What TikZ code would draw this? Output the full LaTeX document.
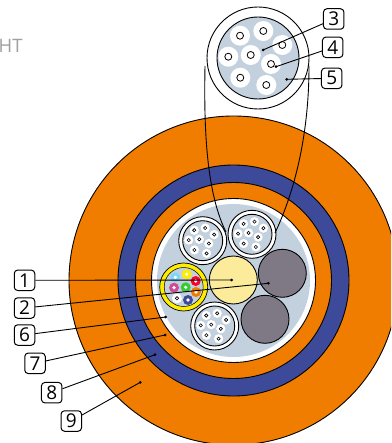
\documentclass[tikz,border=0pt]{standalone}
\usepackage{fontspec}
\setmainfont{Open Sans}
\usepackage{tikz}
\usetikzlibrary{calc,positioning}

\definecolor{jacketorange}{HTML}{F07D00}
\definecolor{armourblue}{HTML}{3D4A9A}
\definecolor{gelblue}{HTML}{C3D1DF}
\definecolor{fillergray}{HTML}{7F7986}
\definecolor{corecream}{HTML}{FBEB9B}
\definecolor{tubeyellow}{HTML}{FFED00}

\begin{document}
\begin{tikzpicture}[
		x=1pt, y=-1pt,
		>=stealth,
		% Styles
		layer/.style={draw=black, line width=0.9pt},
		numbox/.style={draw=black, fill=white, line width=1pt, rounded corners=3.5pt, minimum size=20.5pt, inner sep=0pt, font=\fontsize{19}{19}\selectfont},
		leader/.style={draw=black, line width=0.9pt},
		tip/.style={fill=black, draw=none},
		% A bundle of eight fibres in a sheath
		pics/bundle/.style n args={3}{code={
			\foreach \fx/\fy in {-18/-22.3, 5.3/-27, 24.3/-13, -29.7/-1.3, -7.3/-3, 13/6, -17.7/19.7, 8.3/27}{
				\fill[white] (#1*\fx/100, #1*\fy/100) circle (#2);
				\draw[fill=white, line width=#3] (#1*\fx/100, #1*\fy/100) circle (#2*0.35);
			}
		}}
	]

	% --- Parameters ---
	\def\cx{233.5}     % Centre of the cable
	\def\cy{280.5}
	\def\subR{24}      % Radius of a sub-unit

	\useasboundingbox (0,0) rectangle (391,443);

	\node[anchor=base west, inner sep=0pt, text=gray!75, font=\fontsize{18.5}{18.5}\selectfont] (title) at (-1.5,53) {HT};

	% --- 1. Layers of the cable ---
	\begin{scope}
		\clip (0,0) rectangle (391,443);
		\draw[layer, fill=jacketorange] (\cx,\cy) circle (164.5);
		\draw[layer, fill=armourblue] (\cx,\cy) circle (115.5);
		\draw[layer, fill=jacketorange] (\cx,\cy) circle (98);
		\draw[layer, fill=white] (\cx,\cy) circle (82);
		\fill[gelblue] (\cx,\cy) circle (76.5);
	\end{scope}

	% --- 2. Sub-units ---
	\coordinate (bundleA) at (202.7,240.7);
	\coordinate (bundleB) at (252,234.3);
	\coordinate (bundleC) at (214.7,326);
	\foreach \bname in {bundleA,bundleB,bundleC}{
		\draw[layer, fill=white] (\bname) circle (\subR);
		\draw[layer, fill=gelblue] (\bname) circle (\subR-4);
		\pic at (\bname) {bundle={47}{4.6}{0.6pt}};
	}
	\draw[layer, fill=corecream] (233.3,280) circle (\subR);
	\draw[layer, fill=fillergray] (282.3,273.3) circle (\subR);
	\draw[layer, fill=fillergray] (265,319.3) circle (\subR);

	% Tube unit
	\coordinate (tubeunit) at (183.7,287);
	\draw[line width=0.7pt, fill=tubeyellow] (tubeunit) circle (\subR);
	\draw[line width=0.5pt, fill=gelblue] (tubeunit) circle (\subR-4.5);
	\foreach \tx/\ty/\tcol in {175.3/277.3/cyan!50!white, 186.7/274.3/tubeyellow, 195.7/281/red!85!magenta, 174/287.7/magenta!65!gray, 185.7/287.3/green!60!gray, 196/292/jacketorange, 188/300/armourblue}{
		\fill[\tcol] (\tx,\ty) circle (5);
		\fill[white] (\tx,\ty) circle (1.8);
	}
	\fill[white] (177,298.3) circle (5);
	\draw[fill=white, line width=0.6pt] (177,298.3) circle (1.7);

	% --- 3. Enlarged bundle ---
	\draw[layer] (205,66) .. controls (204,120) and (205,190) .. (226,232);
	\draw[layer] (309,66) .. controls (309,120) and (300,180) .. (275,233);
	\draw[layer, fill=white] (258,58) circle (51);
	\draw[layer, fill=gelblue] (258,58) circle (41);
	\pic at (258,58) {bundle={100}{10}{0.8pt}};

	% --- 4. Numbered labels ---
	\node[numbox] (num1) at (24.5,280.3) {1};
	\node[numbox] (num2) at (24.5,308) {2};
	\node[numbox] (num6) at (24.5,335) {6};
	\node[numbox] (num7) at (35,363.3) {7};
	\node[numbox] (num8) at (51.7,392.7) {8};
	\node[numbox] (num9) at (71.3,421) {9};
	\node[numbox] (num3) at (333.7,19) {3};
	\node[numbox] (num4) at (332.7,47.3) {4};
	\node[numbox] (num5) at (331.7,78.3) {5};

	\coordinate (end1) at (231.7,280);
	\coordinate (end2) at (268.3,283.3);
	\coordinate (end3) at (263,50);
	\coordinate (end4) at (276,66.7);
	\coordinate (end5) at (286.7,79.3);
	\coordinate (end6) at (165.7,317);
	\coordinate (end7) at (165,335);
	\coordinate (end8) at (155,354.7);
	\coordinate (end9) at (140.3,382.3);

	\foreach \n in {1,2,6,7,8,9,3,4,5}{
		\draw[leader] (num\n) -- (end\n);
		\fill[tip] (end\n) circle (1.5);
	}
\end{tikzpicture}
\end{document}
